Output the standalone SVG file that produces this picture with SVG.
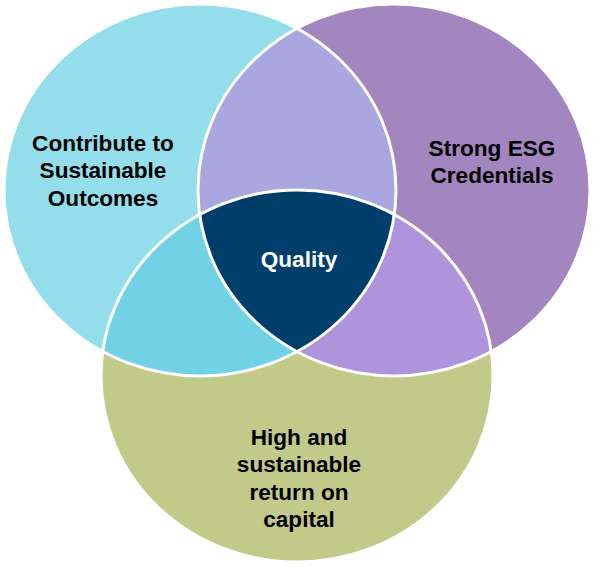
<svg xmlns="http://www.w3.org/2000/svg" xmlns:xlink="http://www.w3.org/1999/xlink" width="594" height="567" viewBox="0 0 594 567">
  <style>
    .lbl { font-family: "Liberation Sans", Arial, sans-serif; font-weight: bold; font-size: 22.6px; text-anchor: middle; fill: #000000; }
    .lbl-w { fill: #ffffff; }
    .divider { fill: none; stroke: #ffffff; stroke-width: 3; }
  </style>
  <defs>
    <ellipse id="eA" cx="200" cy="190" rx="196" ry="186"/>
    <ellipse id="eB" cx="394" cy="190" rx="196" ry="186"/>
    <ellipse id="eC" cx="297" cy="376" rx="196" ry="186"/>
    <clipPath id="clipA"><use xlink:href="#eA"/></clipPath>
    <clipPath id="clipB"><use xlink:href="#eB"/></clipPath>
  </defs>
  <rect x="0" y="0" width="594" height="567" fill="#ffffff"/>

  <g id="node-outcomes">
    <use xlink:href="#eA" fill="#94DDEB"/>
  </g>
  <g id="node-esg">
    <use xlink:href="#eB" fill="#A386C0"/>
  </g>
  <g id="node-return">
    <use xlink:href="#eC" fill="#C2CA8A"/>
  </g>
  <g id="overlap-ab">
    <use xlink:href="#eB" fill="#A9A7DF" clip-path="url(#clipA)"/>
  </g>
  <g id="overlap-ac">
    <use xlink:href="#eC" fill="#72D2E5" clip-path="url(#clipA)"/>
  </g>
  <g id="overlap-bc">
    <use xlink:href="#eC" fill="#AE95DB" clip-path="url(#clipB)"/>
  </g>
  <g id="node-quality">
    <g clip-path="url(#clipB)">
      <use xlink:href="#eC" fill="#003F6B" clip-path="url(#clipA)"/>
    </g>
  </g>

  <g id="connectors">
    <use xlink:href="#eA" class="divider"/>
    <use xlink:href="#eB" class="divider"/>
    <use xlink:href="#eC" class="divider"/>
  </g>

  <g id="labels">
    <text class="lbl" x="103" y="150.7">Contribute to</text>
    <text class="lbl" x="103" y="178.3">Sustainable</text>
    <text class="lbl" x="103" y="205.7">Outcomes</text>
    <text class="lbl" x="492" y="156">Strong ESG</text>
    <text class="lbl" x="492" y="183.3">Credentials</text>
    <text class="lbl lbl-w" x="299" y="267.3">Quality</text>
    <text class="lbl" x="299" y="445">High and</text>
    <text class="lbl" x="299" y="472.3">sustainable</text>
    <text class="lbl" x="299" y="500">return on</text>
    <text class="lbl" x="299" y="527.3">capital</text>
  </g>
</svg>
